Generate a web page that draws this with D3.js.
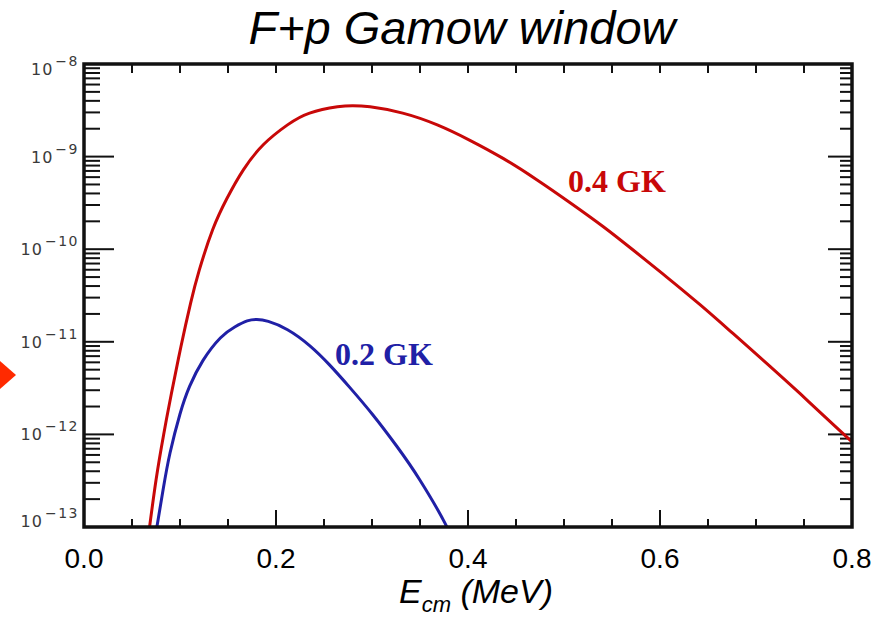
<!DOCTYPE html>
<html>
<head>
<meta charset="utf-8">
<script src="https://cdn.jsdelivr.net/npm/d3@7"></script>
<style>
  body { margin: 0; background: #fff; }
  svg { display: block; }
</style>
</head>
<body>
<svg id="chart" width="884" height="619"></svg>
<script>
// values, E in MeV, rate on a log axis
const energyHot = [0.067, 0.075, 0.083, 0.091, 0.101, 0.111, 0.120, 0.134, 0.149, 0.166, 0.187,
    0.212, 0.235, 0.264, 0.280, 0.298, 0.332, 0.368, 0.402, 0.437, 0.472, 0.506, 0.541,
    0.572, 0.607, 0.642, 0.676, 0.712, 0.746, 0.780, 0.800];
const rateHot = [7.9e-14, 3.2e-13, 1.0e-12, 2.75e-12, 8.9e-12, 2.6e-11, 5.9e-11, 1.62e-10,
    3.55e-10, 7.2e-10, 1.35e-9, 2.2e-9, 2.95e-9, 3.45e-9, 3.55e-9, 3.45e-9, 2.95e-9, 2.2e-9,
    1.5e-9, 9.5e-10, 5.6e-10, 3.2e-10, 1.75e-10, 9.8e-11, 5.0e-11, 2.5e-11, 1.23e-11,
    5.75e-12, 2.75e-12, 1.29e-12, 8.3e-13];

const energyCold = [0.074, 0.0826, 0.0896, 0.100, 0.110, 0.124, 0.142, 0.157, 0.170, 0.180,
    0.192, 0.212, 0.235, 0.256, 0.277, 0.301, 0.326, 0.350, 0.376, 0.380];
const rateCold = [7.6e-14, 2.6e-13, 6.3e-13, 1.66e-12, 3.3e-12, 6.3e-12, 1.1e-11, 1.445e-11,
    1.68e-11, 1.74e-11, 1.66e-11, 1.35e-11, 9.1e-12, 5.6e-12, 3.2e-12, 1.62e-12, 7.4e-13,
    3.2e-13, 1.1e-13, 8.0e-14];

const seriesNames = ["0.4 GK", "0.2 GK"];
const seriesColors = ["#c80808", "#2020a6"];

const xTickValues = [0, 0.2, 0.4, 0.6, 0.8];
const xTickLabels = ["0.0", "0.2", "0.4", "0.6", "0.8"];
const yDecades = [1e-8, 1e-9, 1e-10, 1e-11, 1e-12, 1e-13];
const yExponents = ["\u22128", "\u22129", "\u221210", "\u221211", "\u221212", "\u221213"];

const chartTitle = "F+p Gamow window";

const box = {left: 84, right: 852, top: 64, bottom: 527};

let svg = d3.select("#chart");

let xScale = d3.scaleLinear([0, 0.8], [box.left, box.right]);
let yScale = d3.scaleLog([1e-13, 1e-8], [box.bottom, box.top]);

function drawTitle(){
    svg.append("text")
        .attr("x", 462)
        .attr("y", 44)
        .attr("text-anchor", "middle")
        .style("font-family", "'Liberation Sans', Arial, sans-serif")
        .style("font-style", "italic")
        .style("font-size", "47px")
        .text(chartTitle);

    // bit of slide decoration poking in from the left
    svg.append("path")
        .attr("d", "M0,361 L16,375 L0,389 Z")
        .style("fill", "#ff2a00");
}

function drawYAxis(){
    let minor = [];
    yDecades.slice(1).forEach(d => {
        for (let k = 2; k <= 9; k++) minor.push(k * d);
    });

    let g = svg.append("g").attr("stroke", "#111").attr("stroke-width", 2);

    // left side ticks
    g.selectAll(".lmin").data(minor).enter().append("line")
        .attr("x1", box.left).attr("x2", box.left + 16)
        .attr("y1", d => yScale(d)).attr("y2", d => yScale(d));
    g.selectAll(".lmaj").data(yDecades.slice(1, 5)).enter().append("line")
        .attr("x1", box.left).attr("x2", box.left + 30)
        .attr("y1", d => yScale(d)).attr("y2", d => yScale(d));

    // right side ticks
    g.selectAll(".rmin").data(minor).enter().append("line")
        .attr("x1", box.right).attr("x2", box.right - 12)
        .attr("y1", d => yScale(d)).attr("y2", d => yScale(d));
    g.selectAll(".rmaj").data(yDecades.slice(1, 5)).enter().append("line")
        .attr("x1", box.right).attr("x2", box.right - 24)
        .attr("y1", d => yScale(d)).attr("y2", d => yScale(d));

    let labels = svg.append("g")
        .style("font-family", "'DejaVu Sans', sans-serif")
        .style("fill", "#3a3a3a");

    yDecades.forEach((d, i) => {
        let yy = Math.min(Math.max(yScale(d) + 6, box.top + 11), box.bottom);
        let t = labels.append("text")
            .attr("x", 79)
            .attr("y", yy)
            .attr("text-anchor", "end")
            .style("font-size", "16px");
        t.append("tspan").style("letter-spacing", "1px").text("10");
        t.append("tspan")
            .attr("dy", -9)
            .attr("dx", 2)
            .style("font-size", "14px")
            .style("letter-spacing", "1.5px")
            .text(yExponents[i]);
    });
}

function drawXAxis(){
    let ticks = d3.range(1, 16).map(i => i * 0.05);

    let g = svg.append("g").attr("stroke", "#111").attr("stroke-width", 2);

    g.selectAll(".top").data(ticks).enter().append("line")
        .attr("x1", d => xScale(d)).attr("x2", d => xScale(d))
        .attr("y1", box.top).attr("y2", box.top + 9);

    g.selectAll(".bot").data(ticks).enter().append("line")
        .attr("x1", d => xScale(d)).attr("x2", d => xScale(d))
        .attr("y1", box.bottom)
        .attr("y2", d => {
            let major = Math.abs(d * 5 - Math.round(d * 5)) < 1e-6;
            return box.bottom - (major ? 17 : 8);
        });

    svg.append("g").selectAll("text").data(xTickValues).enter().append("text")
        .attr("x", d => xScale(d))
        .attr("y", 568)
        .attr("text-anchor", "middle")
        .style("font-family", "'Liberation Sans', Arial, sans-serif")
        .style("font-size", "28px")
        .text((d, i) => xTickLabels[i]);

    let title = svg.append("text")
        .attr("x", 476)
        .attr("y", 603)
        .attr("text-anchor", "middle")
        .style("font-family", "'Liberation Sans', Arial, sans-serif")
        .style("font-style", "italic")
        .style("font-size", "34px");
    title.append("tspan").text("E");
    title.append("tspan").attr("dy", 9).style("font-size", "22px").text("cm");
    title.append("tspan").attr("dy", -9).text(" (MeV)");
}

function drawCurve(energies, rates, colour){
    let pts = energies.map((e, i) => [e, rates[i]]);
    let line = d3.line()
        .x(d => xScale(d[0]))
        .y(d => yScale(d[1]))
        .curve(d3.curveNatural);

    svg.append("path")
        .datum(pts)
        .attr("clip-path", "url(#plotclip)")
        .attr("d", line)
        .style("fill", "none")
        .style("stroke", colour)
        .style("stroke-width", 3);
}

function drawFrame(){
    svg.append("rect")
        .attr("x", box.left)
        .attr("y", box.top)
        .attr("width", box.right - box.left)
        .attr("height", box.bottom - box.top)
        .style("fill", "none")
        .style("stroke", "#111")
        .style("stroke-width", 3.5);
}

function drawSeriesLabels(){
    let spots = [[568, 192], [335, 365]];
    seriesNames.forEach((n, i) => {
        svg.append("text")
            .attr("x", spots[i][0])
            .attr("y", spots[i][1])
            .style("font-family", "'Liberation Serif', 'Times New Roman', serif")
            .style("font-weight", "bold")
            .style("font-size", "32px")
            .style("fill", seriesColors[i])
            .text(n);
    });
}

svg.append("defs").append("clipPath").attr("id", "plotclip")
    .append("rect")
    .attr("x", box.left).attr("y", box.top)
    .attr("width", box.right - box.left)
    .attr("height", box.bottom - box.top);

drawTitle();
drawYAxis();
drawXAxis();
drawCurve(energyHot, rateHot, seriesColors[0]);
drawCurve(energyCold, rateCold, seriesColors[1]);
drawFrame();
drawSeriesLabels();
</script>
</body>
</html>
